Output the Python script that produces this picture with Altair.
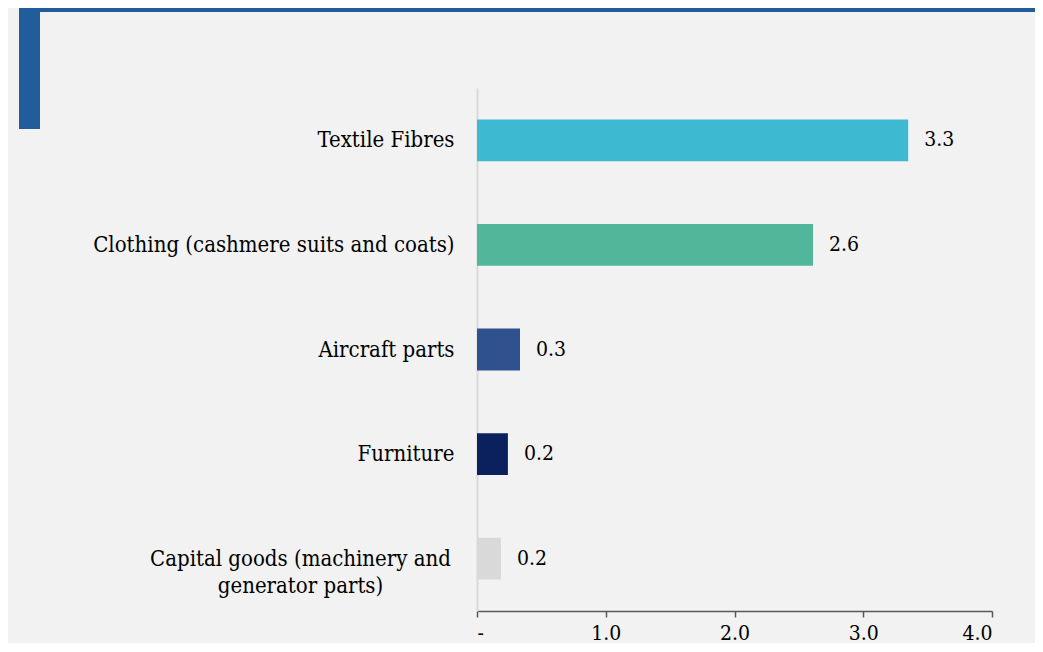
import altair as alt
import pandas as pd

categories = [
    "Textile Fibres",
    "Clothing (cashmere suits and coats)",
    "Aircraft parts",
    "Furniture",
    "Capital goods (machinery and generator parts)",
]
values = [3.349, 2.61, 0.334, 0.24, 0.186]
colors = ["#3DBAD1", "#52B79A", "#2F528F", "#0B215E", "#D9D9D9"]
x_ticks = [0, 1, 2, 3, 4]

FONT = "DejaVu Serif Condensed"
FS_CAT = 22
FS_NUM = 21
BG = "#F2F2F2"
BLUE = "#215D9A"

df = pd.DataFrame({"cat": categories, "val": values, "col": colors})

wrap_expr = (
    "datum.value == 'Capital goods (machinery and generator parts)' ? "
    "['Capital goods (machinery and', 'generator parts)'] : datum.value"
)
test_wrap = "datum.value == 'Capital goods (machinery and generator parts)'"

y_enc = alt.Y(
    "cat:N",
    sort=categories,
    title=None,
    scale=alt.Scale(paddingInner=0.6, paddingOuter=0.3),
    axis=alt.Axis(
        ticks=False,
        domainColor="#D9D9D9",
        domainWidth=2,
        labelFont=FONT,
        labelFontSize=FS_CAT,
        labelColor="#000000",
        labelLimit=500,
        labelLineHeight=27,
        labelExpr=wrap_expr,
        labelAlign={"condition": {"test": test_wrap, "value": "center"}, "value": "right"},
        labelPadding={"condition": {"test": test_wrap, "value": 177}, "value": 23},
    ),
)

x_enc = alt.X(
    "val:Q",
    title=None,
    scale=alt.Scale(domain=[0, 4], nice=False),
    axis=alt.Axis(
        values=x_ticks,
        grid=False,
        domainColor="#595959",
        domainWidth=1.5,
        tickColor="#595959",
        tickWidth=1.5,
        tickSize=6,
        labelFont=FONT,
        labelFontSize=FS_NUM,
        labelColor="#000000",
        labelPadding=5,
        labelExpr="datum.value == 0 ? '-' : format(datum.value, '.1f')",
    ),
)

bars = alt.Chart(df).mark_bar().encode(
    x=x_enc,
    y=y_enc,
    color=alt.Color("col:N", scale=None),
)

text = alt.Chart(df).mark_text(
    align="left", baseline="middle", dx=16, font=FONT, fontSize=FS_NUM, color="#000000"
).encode(
    x="val:Q",
    y=alt.Y("cat:N", sort=categories),
    text=alt.Text("val:Q", format=".1f"),
)

top_line = alt.Chart(df).mark_rect(color=BLUE).encode(
    x=alt.value(-458), x2=alt.value(560), y=alt.value(-80), y2=alt.value(-76)
).transform_filter("datum.cat == 'Furniture'")

side_block = alt.Chart(df).mark_rect(color=BLUE).encode(
    x=alt.value(-458), x2=alt.value(-437), y=alt.value(-80), y2=alt.value(41)
).transform_filter("datum.cat == 'Furniture'")

chart = alt.layer(top_line, side_block, bars, text).properties(
    width=515,
    height=523,
    padding={"left": 469, "top": 80, "right": 43, "bottom": 32},
    autosize=alt.AutoSizeParams(type="none"),
    background=BG,
).configure_view(stroke=None, fill=BG)

chart.save("out.html", embed_options={"renderer": "svg", "actions": False})
